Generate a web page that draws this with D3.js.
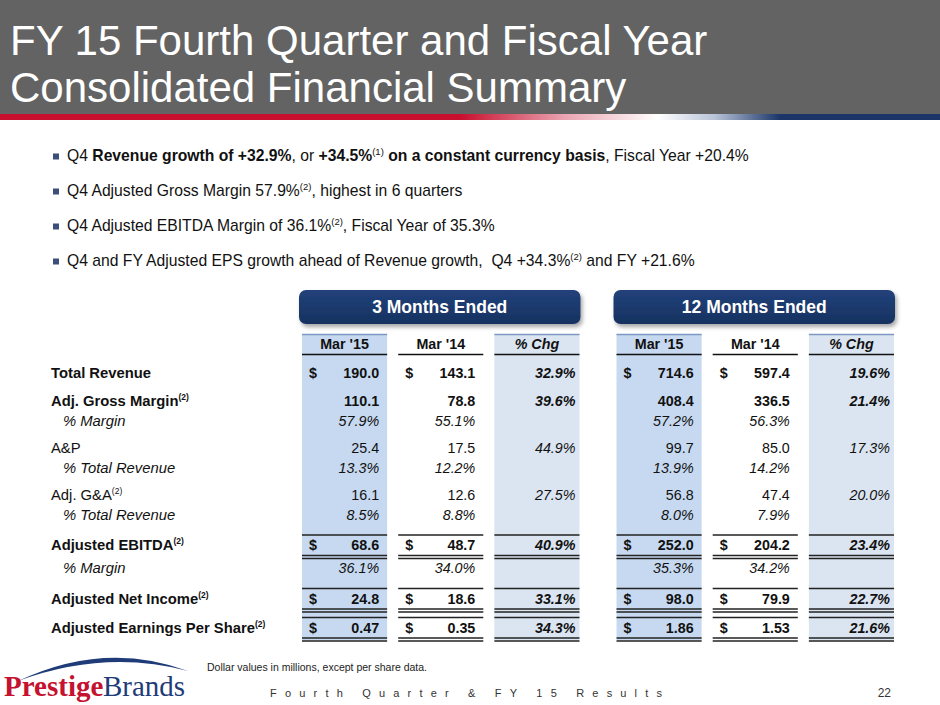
<!DOCTYPE html>
<html><head><meta charset="utf-8">
<script src="https://cdn.jsdelivr.net/npm/d3@7"></script>
<style>
body{margin:0;background:#fff}
svg{display:block;font-family:"Liberation Sans",Arial,Helvetica,sans-serif}
.bul{white-space:pre}
</style>
</head><body><svg id="c" width="940" height="705"></svg>
<script>
// ---------- data ----------
const titleLines = ["FY 15 Fourth Quarter and Fiscal Year", "Consolidated Financial Summary"];
const bullets = [
  [["Q4 ",""],["Revenue growth of +32.9%","b"],[", or ",""],["+34.5%","b"],["(1)","s"],[" on a constant currency basis","b"],[", Fiscal Year +20.4%",""]],
  [["Q4 Adjusted Gross Margin 57.9%",""],["(2)","s"],[", highest in 6 quarters",""]],
  [["Q4 Adjusted EBITDA Margin of 36.1%",""],["(2)","s"],[", Fiscal Year of 35.3%",""]],
  [["Q4 and FY Adjusted EPS growth ahead of Revenue growth,  Q4 +34.3%",""],["(2)","s"],[" and FY +21.6%",""]]
];
const groupLabels = ["3 Months Ended", "12 Months Ended"];
const periodLabels = ["Mar '15", "Mar '14", "% Chg"];
const rowLabels = ["Total Revenue","Adj. Gross Margin","% Margin","A&P","% Total Revenue","Adj. G&A","% Total Revenue","Adjusted EBITDA","% Margin","Adjusted Net Income","Adjusted Earnings Per Share"];
const rowKinds  = ["revenue","bold","ratio","item","ratio","item","ratio","boxed","ratio","boxed","boxed"];
const rowNotes  = ["","(2)","","","","(2)","","(2)","","(2)","(2)"];
const q4Current = [190.0,110.1,57.9,25.4,13.3,16.1,8.5,68.6,36.1,24.8,0.47];
const q4Prior   = [143.1,78.8,55.1,17.5,12.2,12.6,8.8,48.7,34.0,18.6,0.35];
const q4Change  = [32.9,39.6,null,44.9,null,27.5,null,40.9,null,33.1,34.3];
const fyCurrent = [714.6,408.4,57.2,99.7,13.9,56.8,8.0,252.0,35.3,98.0,1.86];
const fyPrior   = [597.4,336.5,56.3,85.0,14.2,47.4,7.9,204.2,34.2,79.9,1.53];
const fyChange  = [19.6,21.4,null,17.3,null,20.0,null,23.4,null,22.7,21.6];
const footnote = "Dollar values in millions, except per share data.";
const footerTitle = "Fourth Quarter & FY 15 Results";
const pageNumber = "22";

// ---------- setup ----------
const svg = d3.select("#c");
const W = 940;
const defs = svg.append("defs");
const rule = defs.append("linearGradient").attr("id","rule").attr("x1","0").attr("x2","1");
[[0,"#c8102e"],[0.49,"#c8102e"],[0.6,"#eaa3b1"],[0.7,"#ffffff"],[0.76,"#b9c4d8"],[0.83,"#1b3568"],[1,"#1b3568"]]
  .forEach(([o,c])=>rule.append("stop").attr("offset",o).attr("stop-color",c));
const boxGrad = defs.append("linearGradient").attr("id","boxg").attr("x1","0").attr("x2","0").attr("y1","0").attr("y2","1");
boxGrad.append("stop").attr("offset",0).attr("stop-color","#22417a");
boxGrad.append("stop").attr("offset",1).attr("stop-color","#163260");
const sh = defs.append("filter").attr("id","sh").attr("x","-10%").attr("y","-30%").attr("width","120%").attr("height","170%");
sh.append("feDropShadow").attr("dx",2).attr("dy",3).attr("stdDeviation",2).attr("flood-color","#000").attr("flood-opacity",0.35);

// ---------- title band ----------
svg.append("rect").attr("x",0).attr("y",0).attr("width",W).attr("height",114).attr("fill","#636363");
svg.append("rect").attr("x",0).attr("y",114).attr("width",W).attr("height",6).attr("fill","url(#rule)");
svg.selectAll("text.title").data(titleLines).join("text").attr("class","title")
  .attr("x",10).attr("y",(d,i)=>55+i*47).attr("fill","#fff").attr("font-size",42).text(d=>d);

// ---------- bullets ----------
const bulletY = d3.scalePoint().domain(d3.range(bullets.length)).range([161,266]);
bullets.forEach((segs,i)=>{
  const y = bulletY(i);
  svg.append("rect").attr("x",53).attr("y",y-7.5).attr("width",6).attr("height",6).attr("fill","#3b4f7a");
  const t = svg.append("text").attr("class","bul").attr("x",67).attr("y",y).attr("font-size",15.7).attr("fill","#111");
  let prevSup = false;
  segs.forEach(([s,st])=>{
    const ts = t.append("tspan").text(s);
    if(st==="b") ts.attr("font-weight","bold");
    if(st==="s"){ ts.attr("font-size",9.5).attr("dy",-6); prevSup = true; }
    else { if(prevSup) ts.attr("dy",6); prevSup = false; }
  });
});

// ---------- table layout ----------
const groupX = d3.scaleBand().domain(groupLabels).range([299,895]).paddingInner(0.105);
const colX = {};
groupLabels.forEach(g=>{
  colX[g] = d3.scaleBand().domain(periodLabels)
    .range([groupX(g)+3, groupX(g)+groupX.bandwidth()-1]).paddingInner(0.115);
});
// vertical: cumulative spacing units derived from row kinds
const units = [0];
for(let i=1;i<rowKinds.length;i++){
  const p=rowKinds[i-1], k=rowKinds[i];
  let g;
  if(k==="ratio") g = (p==="boxed")?23:19.5;
  else if(p==="ratio") g = (k==="boxed")?30.5:27.5;
  else g = (k==="boxed"&&p==="boxed")?29:28;
  units.push(units[i-1]+g);
}
const rowY = d3.scaleLinear().domain([0,units[units.length-1]]).range([373,373+units[units.length-1]]);
const yOf = i => rowY(units[i]);
const headY = yOf(0)-29;
const tableTop = headY-10, tableBottom = yOf(rowLabels.length-1)+13;

const seriesByGroup = {
  [groupLabels[0]]: [q4Current,q4Prior,q4Change],
  [groupLabels[1]]: [fyCurrent,fyPrior,fyChange]
};
const shadeFill = ["#c6d9f0", null, "#dbe5f1"];
const isBold = k => k==="revenue"||k==="bold"||k==="boxed";
const hasDollar = k => k==="revenue"||k==="boxed";
const f1 = d3.format(".1f"), f2 = d3.format(".2f");

groupLabels.forEach(g=>{
  const gx = groupX(g), bw = groupX.bandwidth();
  // header box
  svg.append("rect").attr("x",gx).attr("y",290).attr("width",bw).attr("height",34).attr("rx",7)
    .attr("fill","url(#boxg)").attr("filter","url(#sh)");
  svg.append("text").attr("x",gx+bw/2).attr("y",313).attr("text-anchor","middle")
    .attr("fill","#fff").attr("font-weight","bold").attr("font-size",17.5).text(g);
  const cx = colX[g], cw = cx.bandwidth();
  periodLabels.forEach((p,ci)=>{
    const x0 = cx(p), x1 = x0+cw;
    if(shadeFill[ci]){
      svg.append("rect").attr("x",x0).attr("y",tableTop).attr("width",cw).attr("height",tableBottom-tableTop).attr("fill",shadeFill[ci]);
      svg.append("line").attr("x1",x0).attr("x2",x1).attr("y1",tableTop+0.5).attr("y2",tableTop+0.5).attr("stroke","#7d98c4").attr("stroke-width",1.5);
    }
    svg.append("line").attr("x1",x0).attr("x2",x1).attr("y1",headY+10.5).attr("y2",headY+10.5).attr("stroke","#111").attr("stroke-width",1.5);
    svg.append("text").attr("x",(x0+x1)/2).attr("y",headY+5).attr("text-anchor","middle")
      .attr("font-weight","bold").attr("font-style",ci===2?"italic":null).attr("font-size",14.3).attr("fill","#111").text(p);
    const vals = seriesByGroup[g][ci];
    rowLabels.forEach((lab,ri)=>{
      const k = rowKinds[ri], y = yOf(ri);
      if(k==="boxed"){
        svg.append("line").attr("x1",x0).attr("x2",x1).attr("y1",y-10).attr("y2",y-10).attr("stroke","#222").attr("stroke-width",1.5);
        [10.5,13.5].forEach(o=>svg.append("line").attr("x1",x0).attr("x2",x1).attr("y1",y+o).attr("y2",y+o).attr("stroke","#222").attr("stroke-width",1.3));
      }
      const v = vals[ri];
      if(v===null||v===undefined) return;
      let s = (k==="ratio"||ci===2) ? f1(v)+"%" : (lab.includes("Per Share")?f2(v):f1(v));
      const t = svg.append("text").attr("y",y+5).attr("font-size",14.3).attr("fill","#111")
        .attr("text-anchor","end").attr("x", ci===2 ? x1-4 : x1-8).text(s);
      if(isBold(k)) t.attr("font-weight","bold");
      if(k==="ratio"||ci===2) t.attr("font-style","italic");
      if(ci<2 && hasDollar(k)){
        svg.append("text").attr("x",x0+7).attr("y",y+5).attr("font-size",14.3).attr("font-weight","bold").attr("fill","#111").text("$");
      }
    });
  });
});

// row labels
rowLabels.forEach((lab,ri)=>{
  const k = rowKinds[ri], y = yOf(ri);
  const t = svg.append("text").attr("x",k==="ratio"?63:51).attr("y",y+5).attr("font-size",14.8).attr("fill","#111");
  t.append("tspan").text(lab);
  if(isBold(k)) t.attr("font-weight","bold");
  if(k==="ratio") t.attr("font-style","italic");
  if(rowNotes[ri]) t.append("tspan").attr("font-size",8.5).attr("dy",-6).text(rowNotes[ri]);
});

// ---------- footer ----------
svg.append("path").attr("d","M18,681 Q105,640 188,671 Q105,649 18,681 Z").attr("fill","#1f3c78");
svg.append("text").attr("x",4).attr("y",696).attr("font-family","'Liberation Serif','Times New Roman',serif")
  .attr("font-size",29).attr("font-weight","bold").attr("fill","#c41230").text("Prestige");
svg.append("text").attr("x",103).attr("y",696).attr("font-family","'Liberation Serif','Times New Roman',serif")
  .attr("font-size",29).attr("fill","#1f3c78").text("Brands");
svg.append("text").attr("x",207).attr("y",671).attr("font-size",10.5).attr("fill","#222").text(footnote);
svg.append("text").attr("x",270).attr("y",697).attr("font-size",11).attr("fill","#333")
  .attr("textLength",392).attr("lengthAdjust","spacing").text(footerTitle);
svg.append("text").attr("x",891).attr("y",697).attr("text-anchor","end").attr("font-size",12).attr("fill","#333").text(pageNumber);
</script></body></html>
